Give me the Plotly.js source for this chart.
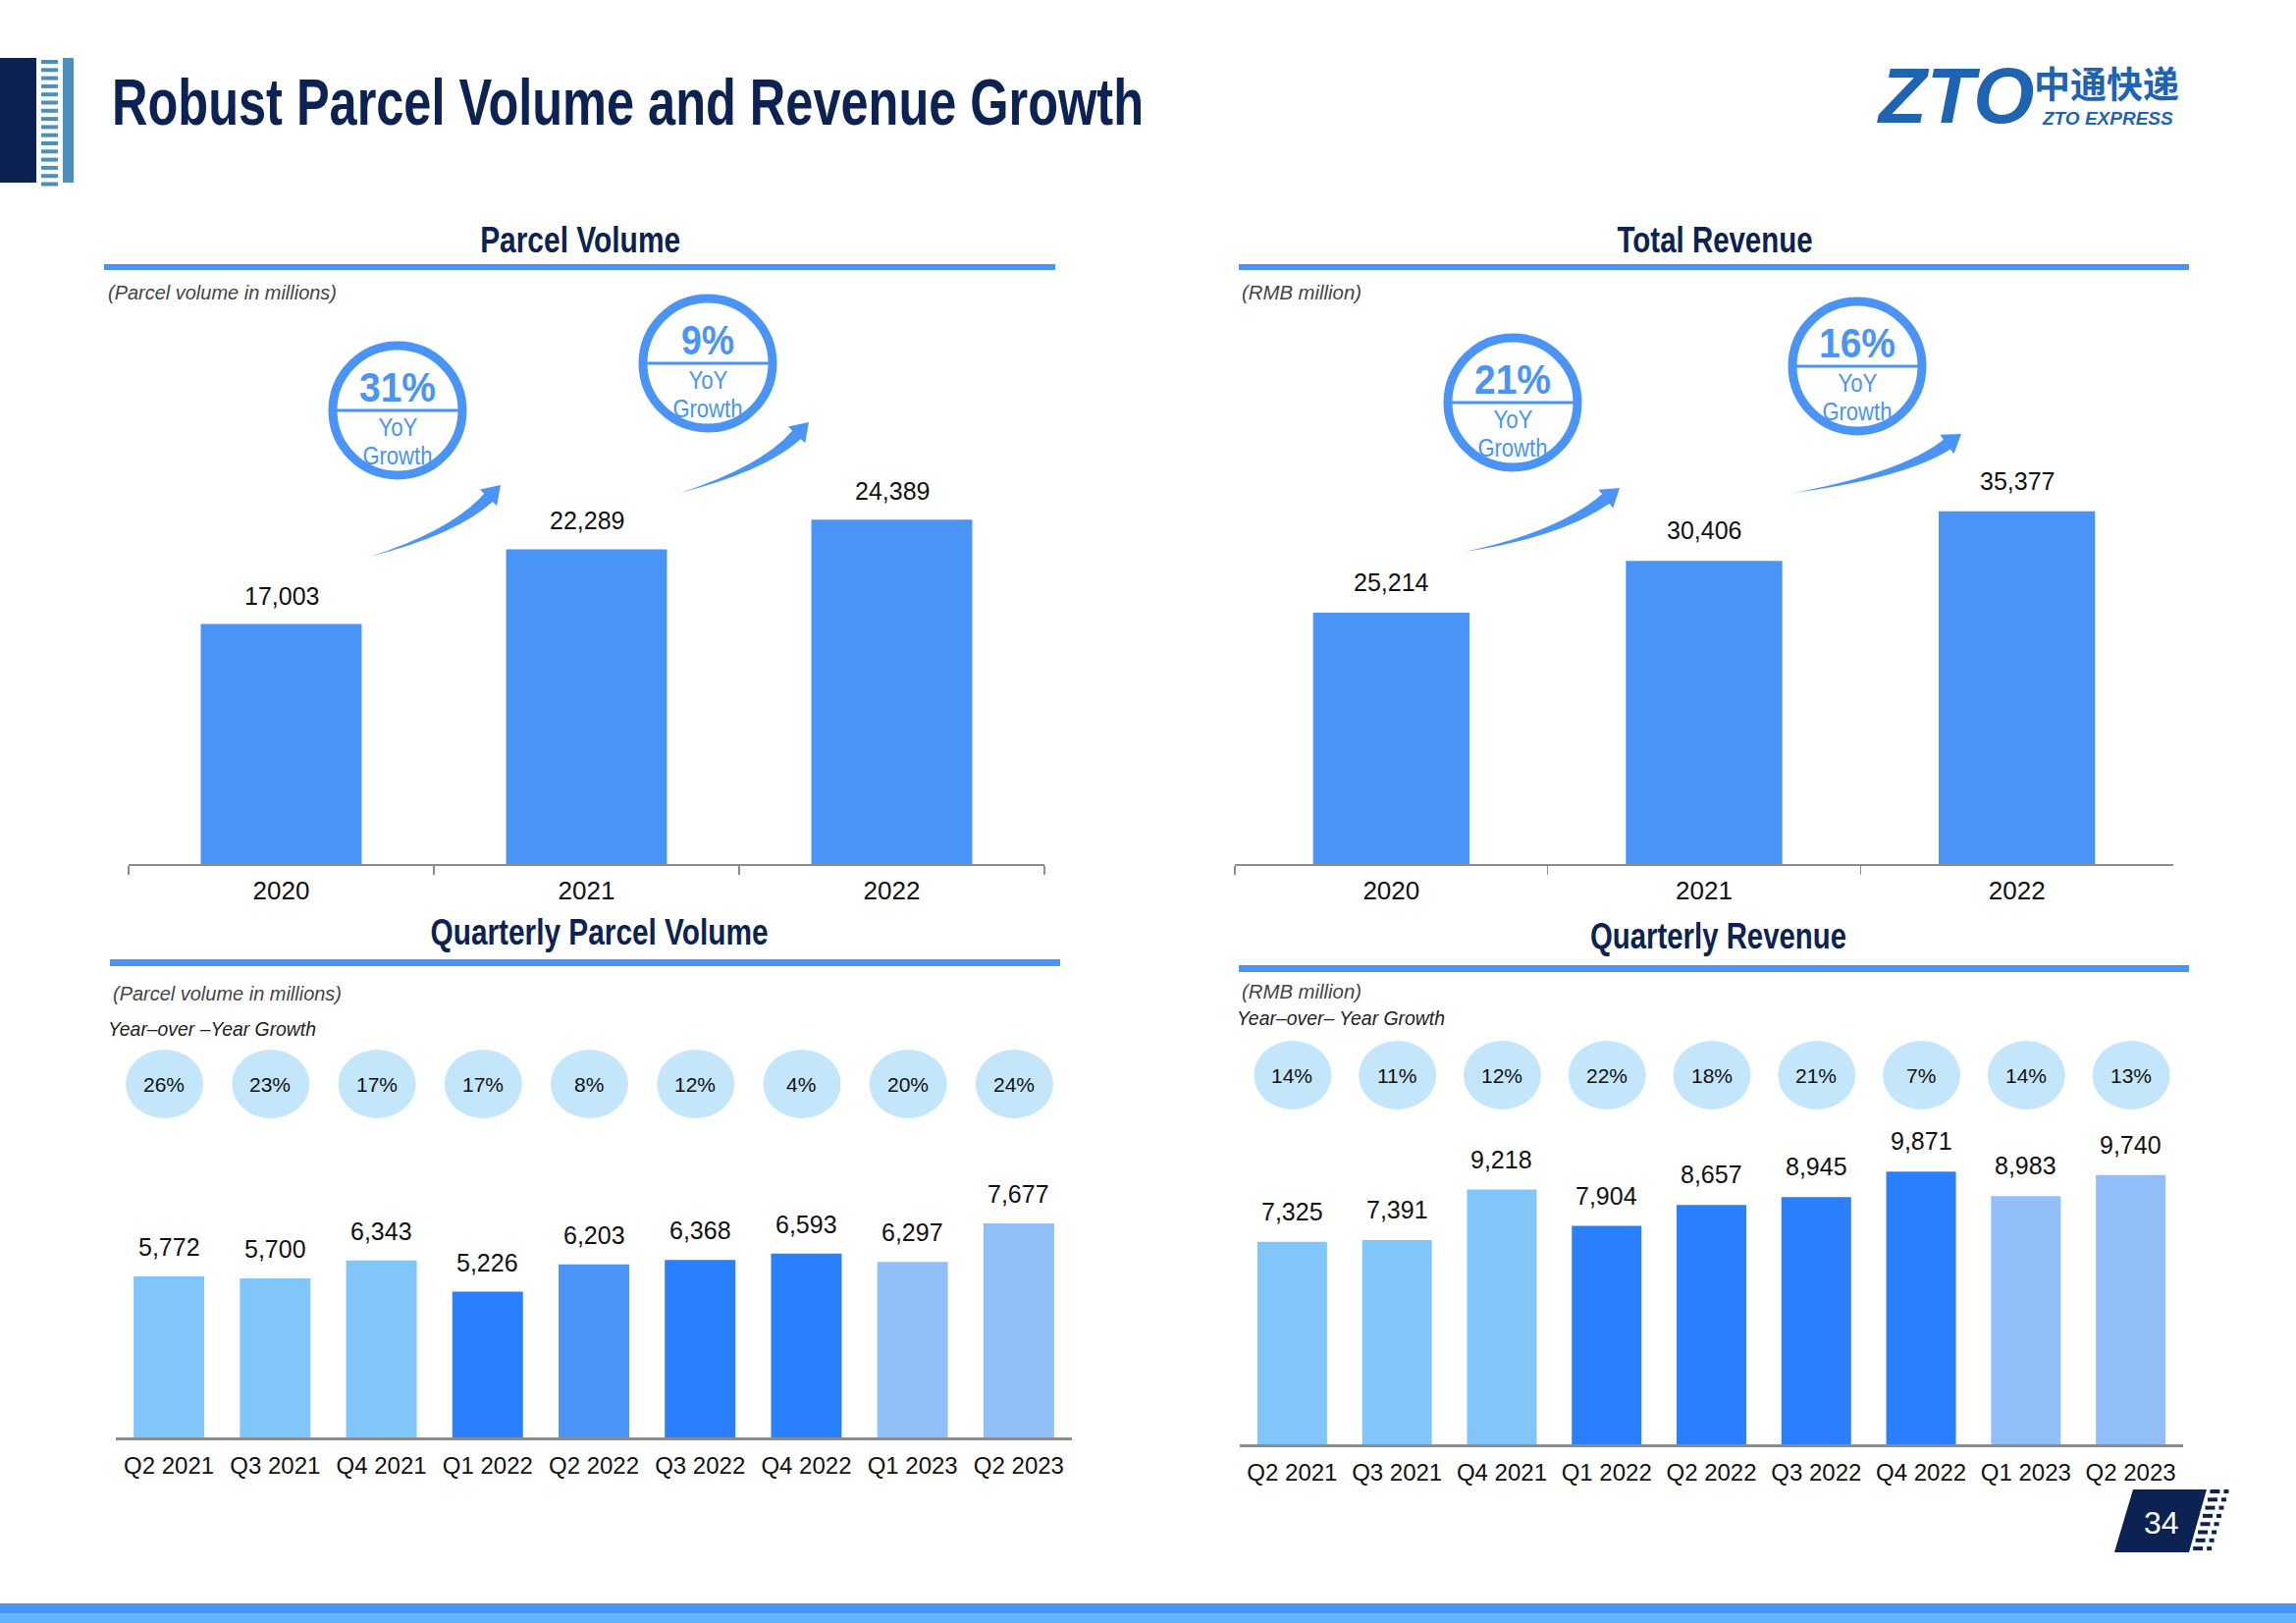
<!DOCTYPE html>
<html>
<head>
<meta charset="utf-8">
<script src="https://cdn.plot.ly/plotly-3.0.1.min.js"></script>
<style>
  html, body { margin: 0; padding: 0; background: #ffffff; }
  #chart { width: 2339px; height: 1653px; }
</style>
</head>
<body>
<div id="chart"></div>
<script>
// ---------------- DATA ----------------
const years = ['2020', '2021', '2022'];
const parcelVolume = [17003, 22289, 24389];
const totalRevenue = [25214, 30406, 35377];
const parcelAnnualGrowth = ['31%', '9%'];
const revenueAnnualGrowth = ['21%', '16%'];

const quarters = ['Q2 2021', 'Q3 2021', 'Q4 2021', 'Q1 2022', 'Q2 2022', 'Q3 2022', 'Q4 2022', 'Q1 2023', 'Q2 2023'];
const quarterlyParcel = [5772, 5700, 6343, 5226, 6203, 6368, 6593, 6297, 7677];
const quarterlyParcelYoY = ['26%', '23%', '17%', '17%', '8%', '12%', '4%', '20%', '24%'];
const quarterlyRevenue = [7325, 7391, 9218, 7904, 8657, 8945, 9871, 8983, 9740];
const quarterlyRevenueYoY = ['14%', '11%', '12%', '22%', '18%', '21%', '7%', '14%', '13%'];

// ---------------- STYLE ----------------
const W = 2339, H = 1653;
const px = X => X / W;
const py = Y => 1 - Y / H;
const SANS = '"Liberation Sans", Arial, sans-serif';
const NAVY = '#0b2252';
const BLUE = '#4a94f8';
const LIGHT = '#80c6fb', BRIGHT = '#2a7ffe', MEDIUM = '#4a94f8', PERI = '#92bffa';
const qpColors = [LIGHT, LIGHT, LIGHT, BRIGHT, MEDIUM, BRIGHT, BRIGHT, PERI, PERI];
const qrColors = [LIGHT, LIGHT, LIGHT, BRIGHT, BRIGHT, BRIGHT, BRIGHT, PERI, PERI];
const AXIS_GRAY = '#8c8c8c';
const fmt = v => v.toLocaleString('en-US');

// condensed ("narrow") text: rendered width targets in px, keyed by text@fontsize
const narrowWidths = {
  'Robust Parcel Volume and Revenue Growth@67': 1051,
  'Parcel Volume@37': 204, 'Total Revenue@37': 199,
  'Quarterly Parcel Volume@37': 344, 'Quarterly Revenue@37': 261,
  '31%@43': 78, '9%@43': 54, '21%@43': 78, '16%@43': 78,
  'YoY@26': 40, 'Growth@26': 71,
  '(Parcel volume in millions)@20': 233, '(RMB million)@20': 122,
  'Year\u2013over \u2013Year Growth@21': 212, 'Year\u2013over\u2013 Year Growth@21': 212
};

// ---------------- TRACES ----------------
const traces = [
  { type: 'bar', x: years, y: parcelVolume, xaxis: 'x', yaxis: 'y', width: 0.527,
    marker: { color: BLUE }, hoverinfo: 'skip' },
  { type: 'bar', x: years, y: totalRevenue, xaxis: 'x2', yaxis: 'y2', width: 0.5,
    marker: { color: BLUE }, hoverinfo: 'skip' },
  { type: 'bar', x: quarters, y: quarterlyParcel, xaxis: 'x3', yaxis: 'y3', width: 0.665,
    marker: { color: qpColors }, hoverinfo: 'skip' },
  { type: 'bar', x: quarters, y: quarterlyRevenue, xaxis: 'x4', yaxis: 'y4', width: 0.665,
    marker: { color: qrColors }, hoverinfo: 'skip' }
];

// ---------------- AXES ----------------
function annualX(d0, d1, anchor) {
  return { domain: [px(d0), px(d1)], anchor: anchor, type: 'category', range: [-0.5, 2.5],
    showline: true, linecolor: AXIS_GRAY, linewidth: 2, ticks: 'outside', tickson: 'boundaries',
    ticklen: 9, tickwidth: 1.5, tickcolor: AXIS_GRAY, showgrid: false, zeroline: false,
    ticklabelstandoff: 3,
    tickfont: { family: SANS, size: 26, color: '#111111' }, fixedrange: true };
}
function quarterX(d0, d1, anchor) {
  return { domain: [px(d0), px(d1)], anchor: anchor, type: 'category', range: [-0.5, 8.5],
    showline: true, linecolor: AXIS_GRAY, linewidth: 3, ticks: '', showgrid: false, zeroline: false,
    ticklabelstandoff: 5,
    tickfont: { family: SANS, size: 24, color: '#111111' }, fixedrange: true };
}
function hiddenY(top, bottom, max, anchor) {
  return { domain: [py(bottom), py(top)], anchor: anchor, range: [0, max], visible: false, fixedrange: true };
}

// ---------------- ANNOTATIONS & SHAPES ----------------
const annotations = [];
const shapes = [];

function text(x, y, t, size, opts) {
  opts = opts || {};
  annotations.push(Object.assign({
    xref: 'paper', yref: 'paper', x: px(x), y: py(y), text: t, showarrow: false,
    xanchor: opts.xanchor || 'center', yanchor: 'middle',
    font: { family: opts.family || SANS, size: size, color: opts.color || '#111111',
            weight: opts.weight || 'normal', style: opts.style || 'normal' }
  }));
}
function rect(x0, y0, x1, y1, color) {
  shapes.push({ type: 'rect', xref: 'paper', yref: 'paper', x0: px(x0), x1: px(x1), y0: py(y1), y1: py(y0),
    fillcolor: color, line: { width: 0 }, layer: 'above' });
}
function line(x0, y0, x1, y1, color, w) {
  shapes.push({ type: 'line', xref: 'paper', yref: 'paper', x0: px(x0), x1: px(x1), y0: py(y0), y1: py(y1),
    line: { color: color, width: w }, layer: 'above' });
}
function pathPx(pts, color) {
  let s = '';
  pts.forEach(p => {
    s += p[0];
    for (let i = 1; i < p.length; i += 2) s += ' ' + px(p[i]).toFixed(6) + ',' + py(p[i + 1]).toFixed(6);
    s += ' ';
  });
  shapes.push({ type: 'path', xref: 'paper', yref: 'paper', path: s + 'Z', fillcolor: color,
    line: { width: 0 }, layer: 'above' });
}

// Header
rect(0, 59, 37, 186, NAVY);
for (let y = 61; y < 186; y += 8.3) rect(42, y, 59, y + 4, '#4a90bb');
rect(64, 59, 75, 186, '#4a90bb');
text(112, 104, 'Robust Parcel Volume and Revenue Growth', 67, { xanchor: 'left', color: NAVY, weight: 'bold' });

// Logo
text(1992, 97, 'ZTO', 80, { weight: 'bold', style: 'italic', color: '#1f64b2' });
for (let y = 84; y < 126; y += 6) line(1958, y, 2068, y, '#ffffff', 2);
text(2146, 84, '中通快递', 37, { family: '"Noto Sans CJK SC", sans-serif', weight: 'bold', color: '#1f64b2' });
text(2147, 121, 'ZTO EXPRESS', 19, { weight: 'bold', style: 'italic', color: '#1f64b2' });

// Section headers
text(591, 244, 'Parcel Volume', 37, { color: NAVY, weight: 'bold' });
rect(106, 269, 1075, 275, BLUE);
text(108, 298, '(Parcel volume in millions)', 20, { xanchor: 'left', style: 'italic', color: '#444444' });

text(1747, 244, 'Total Revenue', 37, { color: NAVY, weight: 'bold' });
rect(1262, 269, 2230, 275, BLUE);
text(1263, 298, '(RMB million)', 20, { xanchor: 'left', style: 'italic', color: '#444444' });

text(610, 950, 'Quarterly Parcel Volume', 37, { color: NAVY, weight: 'bold' });
rect(112, 977, 1080, 984, BLUE);
text(113, 1012, '(Parcel volume in millions)', 20, { xanchor: 'left', style: 'italic', color: '#444444' });
text(108, 1047, 'Year\u2013over \u2013Year Growth', 21, { xanchor: 'left', style: 'italic', color: '#222222' });

text(1750, 953, 'Quarterly Revenue', 37, { color: NAVY, weight: 'bold' });
rect(1262, 983, 2230, 990, BLUE);
text(1263, 1010, '(RMB million)', 20, { xanchor: 'left', style: 'italic', color: '#444444' });
text(1258, 1036, 'Year\u2013over\u2013 Year Growth', 21, { xanchor: 'left', style: 'italic', color: '#222222' });

// Data labels for bars (through the axes; category index for x)
function barLabels(ys, xref, yref, shift) {
  ys.forEach((v, i) => annotations.push({ xref: xref, yref: yref, x: i, y: v, text: fmt(v),
    showarrow: false, yanchor: 'middle', yshift: shift,
    font: { family: SANS, size: 25, color: '#111111' } }));
}
barLabels(parcelVolume, 'x', 'y', 29);
barLabels(totalRevenue, 'x2', 'y2', 31);
barLabels(quarterlyParcel, 'x3', 'y3', 30);
barLabels(quarterlyRevenue, 'x4', 'y4', 31);

// YoY bubbles (positioned on the category axes)
function bubbles(labels, xref, cy, dx) {
  labels.forEach((lab, i) => {
    shapes.push({ type: 'circle', xref: xref, xsizemode: 'pixel', xanchor: i, x0: -39 + dx, x1: 40 + dx,
      yref: 'paper', y0: py(cy + 35), y1: py(cy - 35), fillcolor: '#c4e6fb', line: { width: 0 }, layer: 'above' });
    annotations.push({ xref: xref, x: i, xshift: dx, yref: 'paper', y: py(cy), text: lab, showarrow: false,
      yanchor: 'middle', font: { family: SANS, size: 21, color: '#111111' } });
  });
}
bubbles(quarterlyParcelYoY, 'x3', 1104, -5);
bubbles(quarterlyRevenueYoY, 'x4', 1095, 0);

// Big YoY growth circles
function growthCircle(cx, cy, pct) {
  const r = 66;
  shapes.push({ type: 'circle', xref: 'paper', yref: 'paper', x0: px(cx - r), x1: px(cx + r), y0: py(cy + r), y1: py(cy - r),
    fillcolor: '#ffffff', line: { color: BLUE, width: 9 }, layer: 'above' });
  line(cx - r, cy, cx + r, cy, BLUE, 3);
  text(cx, cy - 24, pct, 43, { color: BLUE, weight: 'bold' });
  text(cx, cy + 17, 'YoY', 26, { color: BLUE });
  text(cx, cy + 46, 'Growth', 26, { color: BLUE });
}
growthCircle(405, 418, parcelAnnualGrowth[0]);
growthCircle(721, 370, parcelAnnualGrowth[1]);
growthCircle(1541, 410, revenueAnnualGrowth[0]);
growthCircle(1892, 373, revenueAnnualGrowth[1]);

// Swoosh arrows
function swoosh(T, Hd, a0, a1) {
  const w = 12, hw = 12, hl = 18;
  const r0 = a0 * Math.PI / 180, r1 = a1 * Math.PI / 180;
  const d0 = [Math.cos(r0), -Math.sin(r0)], d1 = [Math.cos(r1), -Math.sin(r1)];
  const B = [Hd[0] - hl * d1[0], Hd[1] - hl * d1[1]];
  const det = d0[0] * (-d1[1]) - (-d1[0]) * d0[1];
  const rx = B[0] - T[0], ry = B[1] - T[1];
  const k = (rx * (-d1[1]) - (-d1[0]) * ry) / (-det) * -1;
  const C = [T[0] + k * d0[0], T[1] + k * d0[1]];
  const n = [d1[1], -d1[0]];
  const up = (p, s) => [p[0] + n[0] * s, p[1] + n[1] * s];
  const B1 = up(B, w / 2), B2 = up(B, -w / 2), C1 = up(C, w * 0.3), C2 = up(C, -w * 0.25);
  const H1 = up(B, hw), H2 = up(B, -hw);
  pathPx([['M', T[0], T[1]], ['Q', C1[0], C1[1], B1[0], B1[1]], ['L', H1[0], H1[1]], ['L', Hd[0], Hd[1]],
          ['L', H2[0], H2[1]], ['L', B2[0], B2[1]], ['Q', C2[0], C2[1], T[0], T[1]]], BLUE);
}
swoosh([377, 567], [510, 494], 16, 46);
swoosh([693, 502], [824, 430], 16, 46);
swoosh([1492, 562], [1650, 497], 10, 38);
swoosh([1827, 502], [1998, 442], 9, 36);

// Footer page number
pathPx([['M', 2173, 1517], ['L', 2248, 1517], ['L', 2230, 1581], ['L', 2154, 1581]], NAVY);
text(2202, 1551, '34', 32, { color: '#ffffff' });
for (let y = 1519; y < 1582; y += 8.3) {
  const s = (y - 1517) * 19 / 64;
  line(2252 - s, y, 2262 - s, y, NAVY, 4);
  line(2266 - s, y, 2271 - s, y, NAVY, 4);
}
rect(0, 1633, W, 1643, '#4895f5');
rect(0, 1643, W, 1653, '#62b4fc');

// ---------------- LAYOUT ----------------
const layout = {
  width: W, height: H,
  margin: { l: 0, r: 0, t: 0, b: 0, pad: 0 },
  paper_bgcolor: '#ffffff', plot_bgcolor: 'rgba(0,0,0,0)',
  showlegend: false,
  xaxis: annualX(131, 1064, 'y'),
  yaxis: hiddenY(480, 880, 400 / 0.01438, 'x'),
  xaxis2: annualX(1258, 2214, 'y2'),
  yaxis2: hiddenY(480, 880, 400 / 0.010155, 'x2'),
  xaxis3: quarterX(118, 1092, 'y3'),
  yaxis3: hiddenY(1164, 1464, 300 / 0.0284, 'x3'),
  xaxis4: quarterX(1263, 2224, 'y4'),
  yaxis4: hiddenY(1151, 1471, 320 / 0.02815, 'x4'),
  annotations: annotations,
  shapes: shapes
};

Plotly.newPlot('chart', traces, layout, { displayModeBar: false, staticPlot: true }).then(gd => {
  gd.querySelectorAll('text').forEach(t => {
    const size = Math.round(parseFloat(t.style.fontSize || '0'));
    const w = narrowWidths[t.textContent + '@' + size];
    if (!w) return;
    const w0 = t.getComputedTextLength();
    const anchor = t.getAttribute('text-anchor') || 'start';
    t.setAttribute('textLength', w);
    t.setAttribute('lengthAdjust', 'spacingAndGlyphs');
    // keep the left edge in place for left-aligned captions (annotation text is middle-anchored)
    const isLeft = /^(Robust|\(|Year)/.test(t.textContent);
    if (isLeft && anchor === 'middle') {
      const x = parseFloat(t.getAttribute('x') || '0');
      t.setAttribute('x', x - (w0 - w) / 2);
    }
  });
});
</script>
</body>
</html>
